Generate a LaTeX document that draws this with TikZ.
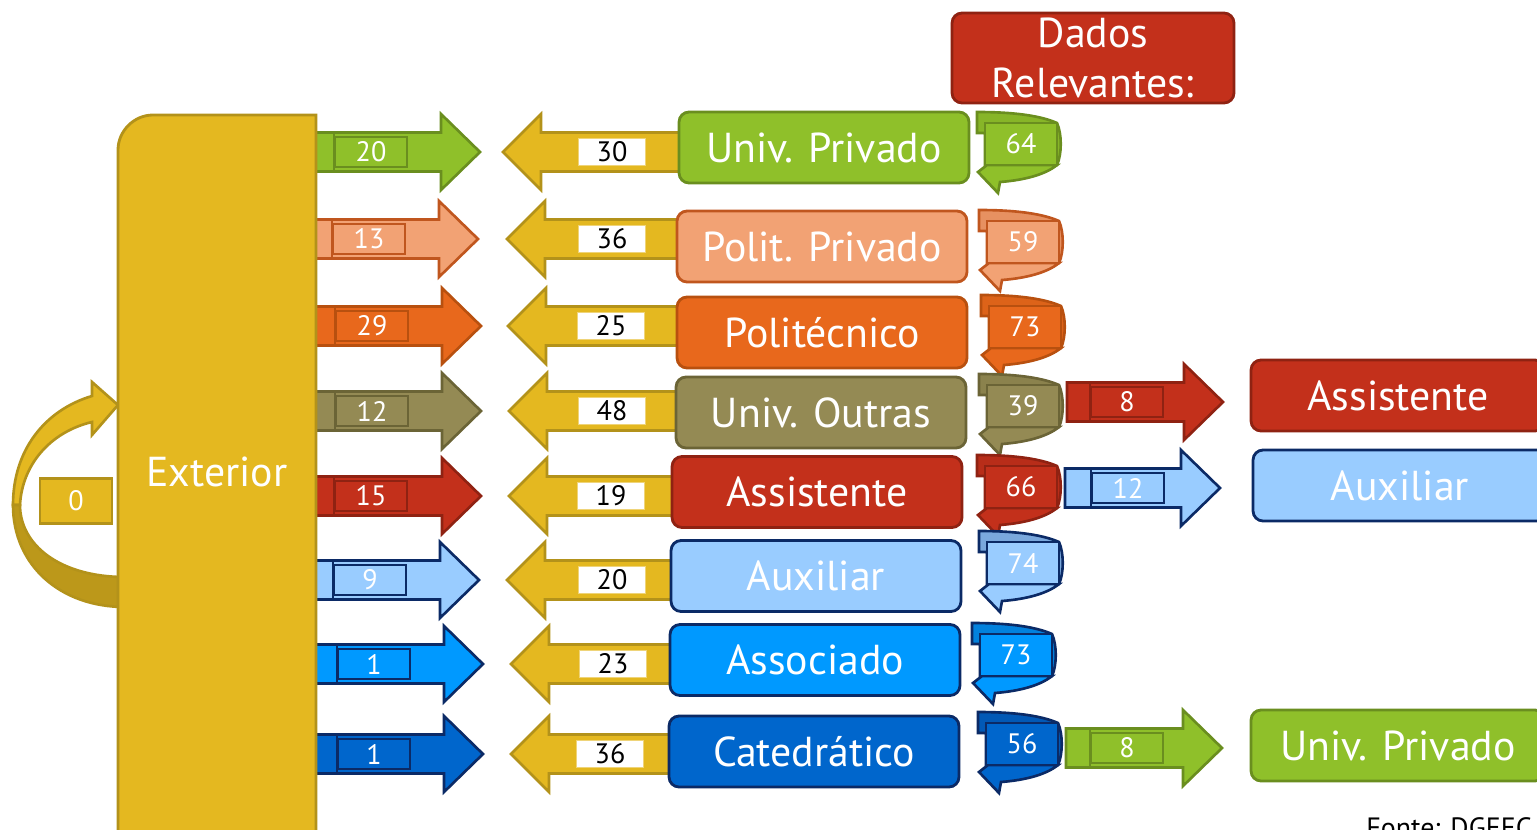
\documentclass[tikz,border=0pt]{standalone}
\usepackage{fontspec}
\setmainfont{PT Sans}
\definecolor{gold}{HTML}{E4B820}
\definecolor{goldD}{HTML}{B3921A}
\definecolor{goldDk}{HTML}{BC981A}
\definecolor{green}{HTML}{8FC02A}
\definecolor{greenD}{HTML}{6A8E1F}
\definecolor{salmon}{HTML}{F2A274}
\definecolor{salmonD}{HTML}{C0561E}
\definecolor{orange}{HTML}{E8681C}
\definecolor{orangeD}{HTML}{B8500F}
\definecolor{khaki}{HTML}{948A54}
\definecolor{khakiD}{HTML}{6B6436}
\definecolor{red}{HTML}{C3301B}
\definecolor{redD}{HTML}{8F2212}
\definecolor{lblue}{HTML}{99CCFF}
\definecolor{blue}{HTML}{0099FF}
\definecolor{mblue}{HTML}{0066CC}
\definecolor{navy}{HTML}{0B2A66}
\newcommand\bigf{\fontsize{23.8pt}{28.9pt}\selectfont}
\newcommand\numf{\fontsize{16pt}{19pt}\selectfont}
\tikzset{
  arr/.style={line width=1.5pt, line join=miter},
  cat/.style={rounded corners=0.2cm, minimum width=5.8cm, minimum height=1.42cm,
    inner sep=0pt, line width=1.6pt, text=white, font=\bigf},
  rbox/.style={cat, minimum width=5.88cm},
  numbox/.style={line width=1.5pt, inner sep=0pt, text=white, font=\numf},
  wlbl/.style={fill=white, draw=gold!60!white, line width=1pt, minimum width=1.34cm,
    minimum height=0.54cm, inner sep=0pt, font=\numf, text=black},
}
% right arrow: x0, tip, y, fill, draw, labelx, text, name
\newcommand\RArr[8]{%
  \filldraw[arr,fill=#4,draw=#5] (#1,#3-19.5) -- (#2-39,#3-19.5) -- (#2-39,#3-38) -- (#2,#3)
    -- (#2-39,#3+38) -- (#2-39,#3+19.5) -- (#1,#3+19.5) -- cycle;
  \draw[arr,draw=#5] (#6-37,#3-19.5) -- (#6-37,#3+19.5);
  \node[numbox,fill=#4,draw=#5,minimum width=1.44cm,minimum height=0.6cm] (#8) at (#6,#3) {#7};}
% left arrow: tip, end, y, labelx, text, name
\newcommand\LArr[6]{%
  \filldraw[arr,fill=gold,draw=goldD] (#1,#3) -- (#1+38,#3-38) -- (#1+38,#3-19.5) -- (#2,#3-19.5)
    -- (#2,#3+19.5) -- (#1+38,#3+19.5) -- (#1+38,#3+38) -- cycle;
  \node[wlbl] (#6) at (#4,#3) {#5};}
% callout: cx, cy, fill, border, num, name
\newcommand\Callout[6]{%
  \begin{scope}[shift={(#1,#2)}]
    \filldraw[arr,fill=#3!78!#4,draw=#4] (-44,-32) .. controls (-5,-32) and (20,-28) .. (36,-21)
      .. controls (41,-10) and (41,10) .. (36,21) -- (-36,21) -- (-36,-11) -- (-44,-11) -- cycle;
    \filldraw[arr,fill=#3,draw=#4] (-34,21) -- (-43,28) -- (-23,49) -- (-21,38)
      .. controls (5,36) and (25,30) .. (36,21) -- cycle;
    \node[numbox,fill=#3,draw=#4,minimum width=1.44cm,minimum height=0.84cm] (#6) at (0,0) {#5};
  \end{scope}}
\begin{document}
\begin{tikzpicture}[x=0.02cm,y=-0.02cm]
\useasboundingbox (0,0) rectangle (1537,829);
\clip (0,0) rectangle (1537,829);

% loop arrow
\filldraw[arr,fill=gold,draw=goldD] (13,505) .. controls (13,450) and (45,410) .. (92,396)
  -- (92,382) -- (118,405) -- (92,435) -- (92,422) .. controls (50,432) and (22,465) .. (20,505) -- cycle;
\filldraw[arr,fill=goldDk,draw=goldD] (13,505) .. controls (13,565) and (60,607) .. (125,607)
  -- (125,577) .. controls (60,577) and (20,545) .. (20,505) -- cycle;
\node[numbox,fill=gold,draw=goldD,minimum width=1.44cm,minimum height=0.9cm] (zero) at (76,501) {\raisebox{-0.14cm}{0}};

% right arrows from Exterior
\RArr{300}{480}{152}{green}{greenD}{371}{20}{o1}
\RArr{300}{478}{239}{salmon}{salmonD}{369}{13}{o2}
\RArr{300}{481}{326}{orange}{orangeD}{372}{29}{o3}
\RArr{300}{481}{411}{khaki}{khakiD}{372}{12}{o4}
\RArr{300}{481}{496}{red}{redD}{371}{15}{o5}
\RArr{300}{479}{580}{lblue}{navy}{370}{9}{o6}
\RArr{300}{483}{664}{blue}{navy}{374}{1}{o7}
\RArr{300}{483}{754}{mblue}{navy}{374}{1}{o8}

% Exterior
\filldraw[line width=1.6pt,fill=gold,draw=goldD] (118,840) -- (118,150) .. controls (118,131) and (134,115) .. (153,115)
  -- (316,115) -- (316,840);
\node[text=white,font=\bigf] (ext) at (217,472) {Exterior};

% left gold arrows
\LArr{503}{700}{152}{612}{30}{i1}
\LArr{507}{700}{239}{612}{36}{i2}
\LArr{508}{700}{326}{611}{25}{i3}
\LArr{509}{700}{411}{612}{48}{i4}
\LArr{509}{700}{496}{611}{19}{i5}
\LArr{507}{700}{580}{612}{20}{i6}
\LArr{511}{700}{664}{613}{23}{i7}
\LArr{511}{700}{754}{610}{36}{i8}

% category boxes
\node[cat,fill=green,draw=greenD] (c1) at (824,147.5) {Univ. Privado};
\node[cat,fill=salmon,draw=salmonD] (c2) at (822,246.5) {Polit. Privado};
\node[cat,fill=orange,draw=orangeD] (c3) at (822,332.5) {Politécnico};
\node[cat,fill=khaki,draw=khakiD] (c4) at (821,412.5) {Univ. Outras};
\node[cat,fill=red,draw=redD] (c5) at (817,492) {Assistente};
\node[cat,fill=lblue,draw=navy] (c6) at (816,576) {Auxiliar};
\node[cat,fill=blue,draw=navy] (c7) at (815,660) {Associado};
\node[cat,fill=mblue,draw=navy] (c8) at (814,751.5) {Catedrático};

% callouts
\Callout{1021}{144}{green}{greenD}{64}{k1}
\Callout{1023}{242}{salmon}{salmonD}{59}{k2}
\Callout{1025}{327}{orange}{orangeD}{73}{k3}
\Callout{1023}{406}{khaki}{khakiD}{39}{k4}
\Callout{1021}{487}{red}{redD}{66}{k5}
\Callout{1023}{563}{lblue}{navy}{74}{k6}
\Callout{1016}{655}{blue}{navy}{73}{k7}
\Callout{1022}{744}{mblue}{navy}{56}{k8}

% right-side arrows
\RArr{1067}{1223}{402}{red}{redD}{1127}{8}{m4}
\RArr{1065}{1220}{488}{lblue}{navy}{1128}{12}{m5}
\RArr{1066}{1222}{748}{green}{greenD}{1127}{8}{m8}

% right boxes
\node[rbox,fill=red,draw=redD] (t4) at (1398,395.5) {Assistente};
\node[rbox,fill=lblue,draw=navy] (t5) at (1400,485.5) {Auxiliar};
\node[rbox,fill=green,draw=greenD] (t8) at (1398,745.5) {Univ. Privado};

% Dados Relevantes
\node[cat,fill=red,draw=redD,minimum width=5.64cm,minimum height=1.8cm,align=center] (dados) at (1093,58) {Dados\\Relevantes:};

% source
\node[anchor=base west,inner sep=0pt,font=\fontsize{15.9pt}{19pt}\selectfont] (src) at (1366,837) {Fonte: DGEEC};
\end{tikzpicture}
\end{document}
